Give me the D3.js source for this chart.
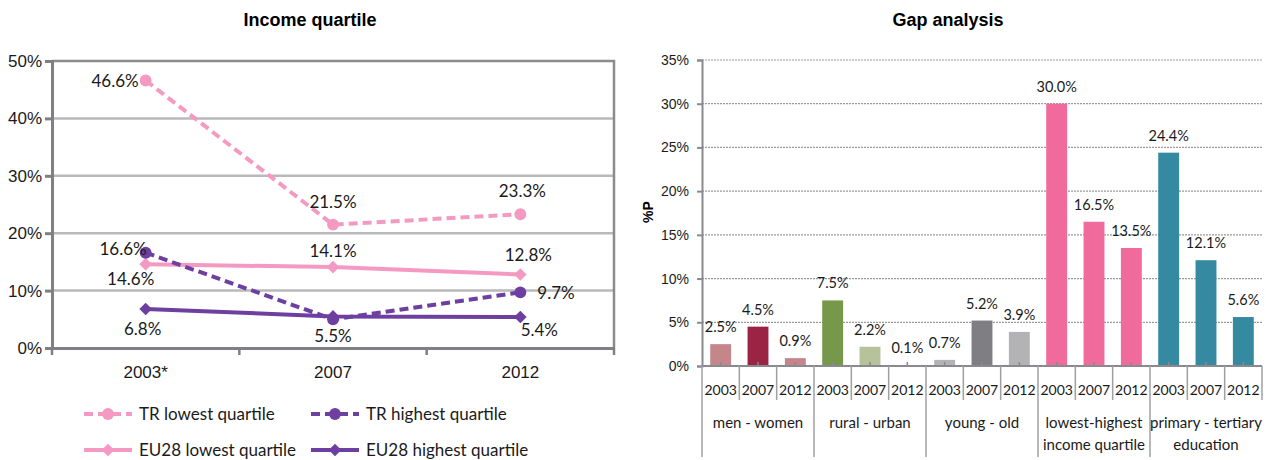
<!DOCTYPE html>
<html>
<head>
<meta charset="utf-8">
<script src="https://cdn.jsdelivr.net/npm/d3@7"></script>
<style>
  body { margin: 0; background: #fff; }
  svg { display: block; font-family: Lato, "Noto Sans", sans-serif; }
</style>
</head>
<body>
<svg id="chart" width="1266" height="460"></svg>
<script>
// left chart: income quartile
const years = ["2003*", "2007", "2012"];
const trLowest = [46.6, 21.5, 23.3];
const trHighest = [16.6, 5.0, 9.7];
const eu28Lowest = [14.6, 14.1, 12.8];
const eu28Highest = [6.8, 5.5, 5.4];
const incomeTicks = [0, 10, 20, 30, 40, 50];

// right chart: gap analysis
const gapGroups = ["men - women", "rural - urban", "young - old", "lowest-highest|income quartile", "primary - tertiary|education"];
const gapYears = ["2003", "2007", "2012"];
const menWomen = [2.5, 4.5, 0.9];
const ruralUrban = [7.5, 2.2, 0.1];
const youngOld = [0.7, 5.2, 3.9];
const incomeGap = [30.0, 16.5, 13.5];
const educationGap = [24.4, 12.1, 5.6];
const gapTicks = [0, 5, 10, 15, 20, 25, 30, 35];

const pink = "#f49ac2", purple = "#6c3fa0";
const svg = d3.select("#chart");
const pct = d => d.toFixed(1) + "%";

!function () {
	const x = d3.scaleBand().domain(years).range([52, 614]);
	const y = d3.scaleLinear().domain([0, 50]).range([348, 61]);
	const cx = d => x(d) + x.bandwidth() / 2;

	svg.append("text")
		.attr("x", 310).attr("y", 26)
		.attr("text-anchor", "middle")
		.style("font", "bold 18px 'Liberation Sans', Arial, sans-serif")
		.text("Income quartile");

	// gridlines
	svg.append("g")
		.selectAll("line")
		.data(incomeTicks.filter(t => t > 0 && t < 50))
		.join("line")
		.attr("x1", 52).attr("x2", 614)
		.attr("y1", d => y(d)).attr("y2", d => y(d))
		.attr("stroke", "#b9b9bb").attr("stroke-width", 2.5);

	// frame top + right
	svg.append("path")
		.attr("d", `M52,${y(50)}H614V${y(0)}`)
		.attr("fill", "none").attr("stroke", "#8c8c90").attr("stroke-width", 2.5);

	const yAxis = svg.append("g")
		.attr("transform", "translate(52,0)")
		.call(d3.axisLeft(y).tickValues(incomeTicks).tickFormat(d => d + "%").tickSize(7).tickPadding(3));
	yAxis.selectAll("path, line").attr("stroke", "#7f7f84").attr("stroke-width", 3);
	yAxis.selectAll("text").style("font-size", "17px").attr("fill", "#1a1a1a");

	const xAxis = svg.append("g")
		.attr("transform", `translate(0,${y(0)})`)
		.call(d3.axisBottom(x).tickSize(0).tickPadding(18));
	xAxis.select(".domain").attr("stroke", "#7f7f84").attr("stroke-width", 3);
	xAxis.selectAll("text").style("font-size", "17px").attr("fill", "#1a1a1a");
	svg.append("g")
		.selectAll("line")
		.data(x.domain().concat(["end"]))
		.join("line")
		.attr("x1", (d, i) => 52 + i * x.step()).attr("x2", (d, i) => 52 + i * x.step())
		.attr("y1", y(0)).attr("y2", y(0) + 7)
		.attr("stroke", "#7f7f84").attr("stroke-width", 2.5);

	const series = [
		{ name: "TR lowest quartile", values: trLowest, color: pink, dash: "9,5", marker: "circle",
		  labels: [[-7, 6, "end"], [0, -17, "middle"], [2, -17, "middle"]] },
		{ name: "TR highest quartile", values: trHighest, color: purple, dash: "9,5", marker: "circle",
		  labels: [[1, 2, "end"], null, [17, 7, "start"]] },
		{ name: "EU28 lowest quartile", values: eu28Lowest, color: pink, dash: null, marker: "diamond",
		  labels: [[-15, 21, "middle"], [0, -10, "middle"], [8, -14, "middle"]] },
		{ name: "EU28 highest quartile", values: eu28Highest, color: purple, dash: null, marker: "diamond",
		  labels: [[-3, 26, "middle"], [0, 26, "middle"], [19, 19, "middle"]] }
	];

	const line = d3.line().x((d, i) => cx(years[i])).y(d => y(d));
	const symbol = m => m === "circle"
		? d3.symbol().type(d3.symbolCircle).size(110)()
		: d3.symbol().type(d3.symbolSquare).size(80)();
	const rot = m => m === "circle" ? "" : " rotate(45)";

	const drawOrder = [2, 3, 0, 1];
	drawOrder.forEach(k => {
		const s = series[k];
		svg.append("path")
			.attr("d", line(s.values))
			.attr("fill", "none").attr("stroke", s.color)
			.attr("stroke-width", 4)
			.attr("stroke-dasharray", s.dash);
		svg.append("g")
			.selectAll("path")
			.data(s.values)
			.join("path")
			.attr("transform", (d, i) => `translate(${cx(years[i])},${y(d)})` + rot(s.marker))
			.attr("d", symbol(s.marker))
			.attr("fill", s.color);
	});

	series.forEach(s => {
		svg.append("g")
			.style("font-size", "17px").attr("fill", "#1a1a1a")
			.selectAll("text")
			.data(s.values.map((v, i) => ({ v, i, p: s.labels[i] })).filter(d => d.p))
			.join("text")
			.attr("x", d => cx(years[d.i]) + d.p[0])
			.attr("y", d => y(d.v) + d.p[1])
			.attr("text-anchor", d => d.p[2])
			.text(d => pct(d.v));
	});

	// legend
	const legend = svg.append("g");
	series.forEach((s, k) => {
		const lx = k % 2 === 0 ? 84 : 311;
		const ly = k < 2 ? 414 : 450;
		const g = legend.append("g").attr("transform", `translate(${lx},${ly})`);
		g.append("line").attr("x1", 0).attr("x2", 48)
			.attr("stroke", s.color).attr("stroke-width", 4)
			.attr("stroke-dasharray", s.dash);
		g.append("path").attr("transform", "translate(24,0)" + rot(s.marker)).attr("d", symbol(s.marker)).attr("fill", s.color);
		g.append("text").attr("x", 55).attr("dy", "0.35em")
			.style("font-size", "17px").attr("fill", "#1a1a1a")
			.text(s.name);
	});
}();

!function () {
	const groupValues = [menWomen, ruralUrban, youngOld, incomeGap, educationGap];
	const barColors = [
		["#c4868a", "#9b2445", "#c4868a"],
		["#76984a", "#b5c29a", "#c9d3b5"],
		["#b3b3b5", "#7f7e83", "#b3b3b5"],
		["#f06a9b", "#f06a9b", "#f06a9b"],
		["#3589a0", "#3589a0", "#3589a0"]
	];
	const bars = [];
	gapGroups.forEach((g, gi) => gapYears.forEach((yr, yi) =>
		bars.push({ id: gi + "-" + yr, group: gi, year: yr, value: groupValues[gi][yi], color: barColors[gi][yi] })));

	const left = 702, right = 1262;
	const x = d3.scaleBand().domain(bars.map(d => d.id)).range([left, right]);
	const y = d3.scaleLinear().domain([0, 35]).range([366, 60]);
	const bw = x.bandwidth();

	svg.append("text")
		.attr("x", 948).attr("y", 26)
		.attr("text-anchor", "middle")
		.style("font", "bold 18px 'Liberation Sans', Arial, sans-serif")
		.text("Gap analysis");

	svg.append("text")
		.attr("transform", "translate(653,212) rotate(-90)")
		.attr("text-anchor", "middle")
		.style("font", "bold 14px 'Liberation Sans', Arial, sans-serif")
		.text("%P");

	svg.append("g")
		.selectAll("line")
		.data(gapTicks.filter(t => t > 0))
		.join("line")
		.attr("x1", left).attr("x2", right)
		.attr("y1", d => y(d)).attr("y2", d => y(d))
		.attr("stroke", "#9a9a9a").attr("stroke-width", 1.2)
		.attr("stroke-dasharray", "2,1");

	const yAxis = svg.append("g")
		.attr("transform", `translate(${left},0)`)
		.call(d3.axisLeft(y).tickValues(gapTicks).tickFormat(d => d + "%").tickSize(5).tickPadding(8));
	yAxis.selectAll("path, line").attr("stroke", "#8a8a8e").attr("stroke-width", 2);
	yAxis.selectAll("text").style("font-size", "14px").attr("fill", "#1a1a1a");

	svg.append("g")
		.selectAll("rect")
		.data(bars)
		.join("rect")
		.attr("x", d => x(d.id) + bw * 0.22)
		.attr("width", bw * 0.56)
		.attr("y", d => y(d.value))
		.attr("height", d => y(0) - y(d.value))
		.attr("fill", d => d.color);

	svg.append("g")
		.style("font-size", "14.5px").attr("fill", "#1a1a1a")
		.attr("text-anchor", "middle")
		.selectAll("text")
		.data(bars)
		.join("text")
		.attr("x", d => x(d.id) + bw / 2)
		.attr("y", d => y(d.value) - 12)
		.text(d => pct(d.value));

	// category tick marks inside plot
	svg.append("g")
		.selectAll("line")
		.data(bars)
		.join("line")
		.attr("x1", d => x(d.id) + bw / 2).attr("x2", d => x(d.id) + bw / 2)
		.attr("y1", y(0) - 4).attr("y2", y(0))
		.attr("stroke", "#8a8a8e").attr("stroke-width", 1.5);

	svg.append("line")
		.attr("x1", left).attr("x2", right)
		.attr("y1", y(0)).attr("y2", y(0))
		.attr("stroke", "#8a8a8e").attr("stroke-width", 2);

	// separators
	const sep = svg.append("g").attr("stroke", "#a0a0a4").attr("stroke-width", 1.5);
	d3.range(bars.length + 1).forEach(i => {
		const gx = left + i * bw;
		const isGroup = i % 3 === 0 && i < bars.length;
		sep.append("line")
			.attr("x1", gx).attr("x2", gx)
			.attr("y1", y(0)).attr("y2", isGroup ? 457 : 400);
	});

	svg.append("g")
		.style("font-size", "14px").attr("fill", "#1a1a1a")
		.attr("text-anchor", "middle")
		.selectAll("text")
		.data(bars)
		.join("text")
		.attr("x", d => x(d.id) + bw / 2)
		.attr("y", 395)
		.text(d => d.year);

	svg.append("g")
		.style("font-size", "15px").attr("fill", "#1a1a1a")
		.attr("text-anchor", "middle")
		.selectAll("text")
		.data(gapGroups)
		.join("text")
		.attr("x", (d, i) => left + (i * 3 + 1.5) * bw)
		.attr("y", 428)
		.selectAll("tspan")
		.data(d => d.split("|"))
		.join("tspan")
		.attr("x", function () { return this.parentNode.getAttribute("x"); })
		.attr("dy", (d, i) => i === 0 ? 0 : 22)
		.text(d => d);
}();
</script>
</body>
</html>
